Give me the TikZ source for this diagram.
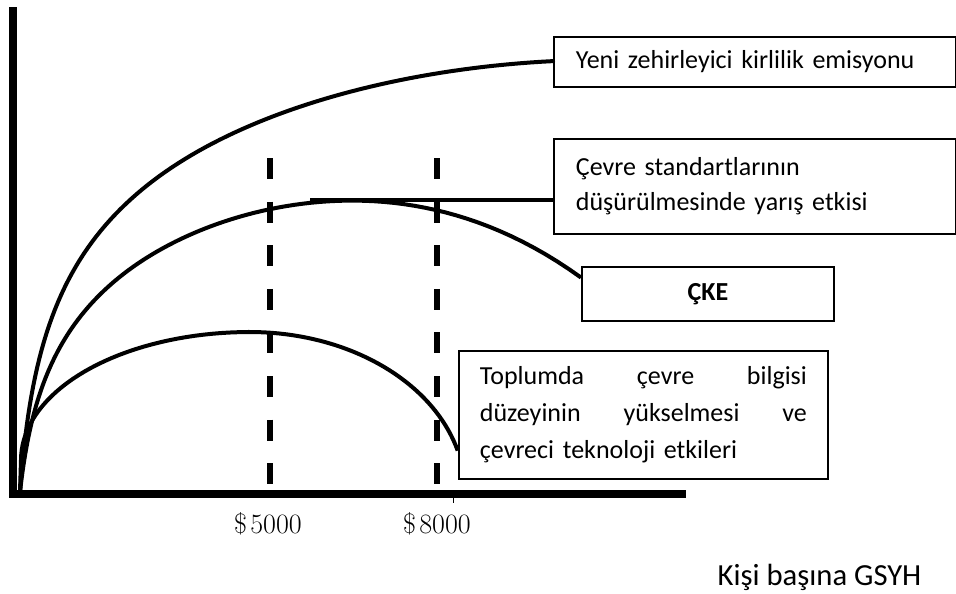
\documentclass[tikz,border=0pt]{standalone}
\usepackage{fontspec}
\newfontfamily\calibri{Carlito}
\usepackage{tikz}

\begin{document}
\begin{tikzpicture}[x=0.75pt,y=-0.75pt,
  axis/.style={line width=6.5pt},
  curve/.style={line width=3pt},
  guide/.style={line width=4.5pt,dash pattern=on 15.75pt off 16.95pt},
  box/.style={draw,line width=1.4pt,inner sep=0pt,anchor=north west,align=left,
    font=\calibri\fontsize{19.5}{26.5}\selectfont},
  money/.style={anchor=base,font=\fontsize{21}{24}\selectfont}]
\useasboundingbox (0,0) rectangle (956,593);

\coordinate (ytop) at (13,7);
\coordinate (o) at (13,494);
\coordinate (xend) at (686,494);
\draw[axis] (ytop) -- (o) -- (xend);

\node[box,text width=268.5pt,inner xsep=16.5pt,minimum height=37.5pt] (emis) at (553,36) {Yeni zehirleyici kirlilik emisyonu};
\node[box,text width=268.5pt,inner xsep=16.5pt,minimum height=71.25pt] (race) at (553,138) {Çevre standartlarının\\düşürülmesinde yarış etkisi};
\node[box,align=center,minimum width=189pt,minimum height=40.5pt] (cke) at (581,266) {\bfseries ÇKE};
\node[box,text width=245.25pt,inner xsep=15.75pt,minimum height=96pt,
  font=\calibri\fontsize{19.5}{27.75}\selectfont] (bilgi) at (458,350)
  {\leavevmode\hbox to 245.25pt{Toplumda\hfill çevre\hfill bilgisi}\\
   \leavevmode\hbox to 245.25pt{düzeyinin\hfill yükselmesi\hfill ve}\\
   çevreci teknoloji etkileri};

\node[money] (m5) at (268,533) {\$\hspace{2.5pt}5000};
\node[money] (m8) at (437,533) {\$\hspace{2.5pt}8000};
\node[anchor=base west,font=\calibri\fontsize{23}{28}\selectfont] (gsyh) at (713,585) {Kişi başına GSYH};

\draw[guide] (270,158) -- (270,486);
\draw[guide] (437,158) -- (437,486);
\draw[line width=0.6pt] (453,498) -- (453,503);

\coordinate (peak) at (310,200);
\coordinate (drop) at ([yshift=12pt]cke.west);
\draw[curve] (20,492) -- plot[domain=0.3:23.087,samples=90] ({20+\x*\x},{492-108.6*ln(1+\x*\x/8)+0.1766*(\x*\x/100)^3}) -- (emis.west);
\draw[curve] (20,492) -- plot[domain=1:23.685,samples=90] ({20+\x*\x},{492-90*ln(1+\x*\x/10)+0.505*(\x*\x/100)^3.3}) -- (drop);
\draw[curve] (peak) -- (peak -| race.west);
\draw[curve] (20,492) -- (21,460) -- plot[domain=180:270,samples=40] ({250+229*cos(\x)},{460+128*sin(\x)})
  -- plot[domain=270:345,samples=40] ({250+215*cos(\x)},{492+160*sin(\x)});

\end{tikzpicture}
\end{document}
